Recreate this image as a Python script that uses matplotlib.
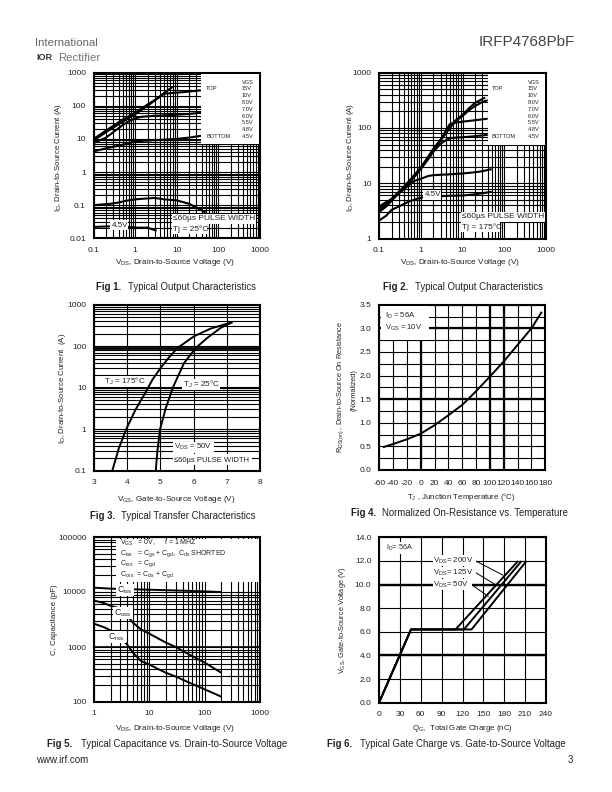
import matplotlib
matplotlib.use("Agg")
import matplotlib.pyplot as plt
from matplotlib.patches import Rectangle
from matplotlib.ticker import LogLocator, NullFormatter, FixedLocator

plt.rcParams['font.family'] = ['Liberation Sans', 'DejaVu Sans']
plt.rcParams['mathtext.fontset'] = 'custom'
plt.rcParams['mathtext.rm'] = 'Liberation Sans'
plt.rcParams['mathtext.default'] = 'rm'

W, H = 612, 792
TXT = '#222222'

# ---- Fig 1
fig1_x = [[0.1, 0.15, 0.2, 0.3, 0.5, 0.7, 1, 1.5, 2, 3, 4, 6, 8],
          [0.1, 0.15, 0.2, 0.3, 0.5, 0.7, 1, 1.5, 2, 3, 5, 15, 38],
          [0.1, 0.2, 0.3, 0.5, 0.7, 1, 1.5, 3, 10, 20, 40],
          [0.1, 0.2, 0.3, 0.6, 1, 3, 10, 20, 40],
          [0.1, 0.25, 0.4, 0.6, 1, 2, 3, 5, 10, 20, 30, 50],
          [0.1, 0.25, 0.4, 0.7, 1, 2, 2.5, 3.3]]
fig1_y = [[10, 14, 18, 25, 38, 48, 62, 85, 110, 150, 195, 290, 370],
          [9, 12.5, 16, 22, 33, 43, 55, 78, 100, 145, 232, 260, 294],
          [7.5, 11, 16, 26, 34, 42, 47, 50, 54, 57, 62],
          [4.2, 5.2, 5.8, 7, 8.5, 9.2, 10, 11, 12.5],
          [0.1, 0.11, 0.12, 0.135, 0.15, 0.16, 0.165, 0.15, 0.14, 0.11, 0.085, 0.06],
          [0.022, 0.023, 0.025, 0.022, 0.021, 0.021, 0.019, 0.017]]
# ---- Fig 2
fig2_x = [[0.1, 0.15, 0.2, 0.3, 0.5, 0.7, 1, 1.5, 2, 3, 5, 7, 10, 15, 20, 35],
          [0.1, 0.15, 0.2, 0.3, 0.5, 0.7, 1, 1.5, 2, 3, 5, 7, 10, 15, 20, 30, 40],
          [0.1, 0.2, 0.3, 0.5, 1, 1.5, 2, 3, 4, 5, 7, 10, 20, 40],
          [0.1, 0.2, 0.3, 0.5, 1, 1.5, 2, 3, 4, 5, 7, 10, 20, 40],
          [0.1, 0.15, 0.2, 0.3, 0.5, 0.7, 1, 1.5, 2, 5, 10, 20, 30, 50],
          [0.1, 0.15, 0.2, 0.3, 0.5, 0.8, 1.2, 4, 10, 20, 30, 50]]
fig2_y = [[3, 3.8, 4.8, 6.7, 10, 14, 19, 30, 42, 62, 105, 140, 172, 235, 285, 356],
          [3.2, 4, 5, 7, 10.5, 14, 19, 29, 40, 60, 100, 135, 165, 215, 250, 295, 318],
          [3.5, 5, 6.8, 10, 19, 29, 40, 60, 90, 118, 125, 130, 138, 147],
          [3.8, 5.2, 7, 9.5, 18, 27, 37, 52, 60, 65, 67, 68, 71, 75],
          [3, 4.2, 5.2, 6.5, 9, 11, 12, 13.5, 14, 14.5, 15, 15.8, 16.5, 18],
          [2.1, 2.6, 3.3, 3.8, 4.6, 5.2, 5.6, 5.9, 6, 6.3, 6.6, 7]]
# ---- Fig 3
fig3_vgs = [[3.55, 3.75, 3.97, 4.25, 4.56, 4.76, 5.0, 5.26, 5.51, 6.01, 6.51, 7.17],
            [4.86, 4.91, 4.99, 5.16, 5.39, 5.71, 6.06, 6.41, 6.81, 7.17]]
fig3_id = [[0.1, 0.35, 1, 2.95, 7.9, 15.6, 29.4, 54, 90, 173, 265, 380],
           [0.1, 0.3, 1, 3.2, 10.7, 39, 90, 158, 275, 380]]
# ---- Fig 4
fig4_t = [-55, -40, -20, 0, 20, 40, 60, 80, 100, 120, 140, 160, 175]
fig4_r = [0.48, 0.55, 0.65, 0.77, 0.95, 1.16, 1.38, 1.67, 1.98, 2.3, 2.65, 3.0, 3.35]
# ---- Fig 5
fig5_x = [[1, 2, 10, 50, 200], [1, 1.5, 2, 3, 4, 5, 7, 10, 15, 20, 30, 50, 100, 200],
          [1, 1.5, 2, 3, 4, 5, 7, 10, 15, 20, 30, 50, 100, 200]]
fig5_y = [[12000, 11500, 11000, 10500, 10000],
          [7000, 6300, 5600, 5000, 3700, 2800, 2100, 1750, 1400, 1200, 1000, 750, 520, 340],
          [2650, 2300, 2000, 1500, 1100, 800, 560, 480, 390, 340, 290, 230, 170, 125]]
# ---- Fig 6
fig6_q = [[0, 46, 110, 200], [0, 46, 122, 205], [0, 46, 133, 212]]
fig6_v = [[0, 6.2, 6.2, 12], [0, 6.2, 6.2, 12], [0, 6.2, 6.2, 12]]
fig6_leader_q = [[139, 178], [139, 170], [133, 157]]
fig6_leader_v = [[12, 10.8], [11, 9.9], [10, 9]]

vgs_list = ['VGS', '15V', '10V', '8.0V', '7.0V', '6.0V', '5.5V', '4.8V', '4.5V']

dec_x = [0.1, 1, 10, 100, 1000]
dec_xl = ['0.1', '1', '10', '100', '1000']

fig = plt.figure(figsize=(W / 100, H / 100), dpi=100, facecolor='white')


def T(x, y, s, size=5.1, ha='left', va='center', rot=0, weight='normal', color=TXT, z=5):
    # texto en pixeles de la pagina (y hacia abajo)
    return fig.text(x / W, 1 - y / H, s, fontsize=size, ha=ha, va=va, rotation=rot,
                    weight=weight, color=color, zorder=z)


def box(x0, y0, x1, y1):
    fig.add_artist(Rectangle((x0 / W, 1 - y1 / H), (x1 - x0) / W, (y1 - y0) / H, transform=fig.transFigure,
                             facecolor='white', edgecolor='none', zorder=4))


def make_axes(x0, y0, x1, y1, xlim, ylim, logx=False, logy=False, xt=None, xl=None, yt=None, yl=None, pad=(6, 5.5)):
    ax = fig.add_axes([x0 / W, 1 - y1 / H, (x1 - x0) / W, (y1 - y0) / H])
    if logx:
        ax.set_xscale('log')
        ax.xaxis.set_minor_locator(LogLocator(base=10, subs=range(2, 10), numticks=20))
        ax.xaxis.set_minor_formatter(NullFormatter())
    if logy:
        ax.set_yscale('log')
        ax.yaxis.set_minor_locator(LogLocator(base=10, subs=range(2, 10), numticks=20))
        ax.yaxis.set_minor_formatter(NullFormatter())
    ax.set_xlim(xlim)
    ax.set_ylim(ylim)
    ax.set_xticks(xt, xl, fontsize=6.0, color=TXT)
    ax.set_yticks(yt, yl, fontsize=6.0, color=TXT)
    ax.tick_params(which='both', length=0)
    ax.tick_params(axis='x', pad=pad[0])
    ax.tick_params(axis='y', pad=pad[1])
    ax.grid(which='both', color='black', lw=0.8)
    ax.set_axisbelow(True)
    for s in ax.spines.values():
        s.set_linewidth(1.5)
    return ax


def curves(ax, xs, ys, lw=1.4):
    for x, y in zip(xs, ys):
        ax.plot(x, y, color='black', lw=lw, solid_capstyle='butt', zorder=3)


def caption(x, y, bold, rest, off):
    T(x, y, bold, size=6.9, weight='bold')
    T(x + off, y, rest, size=6.9)


# ---------- Fig 1
ax = make_axes(93.5, 72.7, 259.7, 238.3, (0.1, 1000), (0.01, 1000), True, True, dec_x, dec_xl,
               [0.01, 0.1, 1, 10, 100, 1000], ['0.01', '0.1', '1', '10', '100', '1000'])
curves(ax, fig1_x, fig1_y, lw=1.5)
box(201, 74, 259, 144)
for i, v in enumerate(vgs_list):
    T(242, 82 + i * 6.8, v, size=4.1)
T(206, 88, 'TOP', size=4.1)
T(206, 136, 'BOTTOM', size=4.1)
box(172, 214, 256, 224)
box(172, 224, 207, 234)
T(173, 219, '≤60µs PULSE WIDTH', size=6.0)
T(173, 229, 'Tj = 25°C', size=6.0)
box(110, 220, 128, 230)
T(112, 225, '4.5V', size=5.7)
T(59, 157, r'I$_D$, Drain-to-Source Current (A)', size=5.7, ha='center', rot=90)
T(175, 263, r'V$_{DS}$, Drain-to-Source Voltage (V)', size=5.9, ha='center')
caption(96, 287, 'Fig 1.', 'Typical Output Characteristics', 32)

# ---------- Fig 2
ax = make_axes(379, 72.7, 546, 238.5, (0.1, 1000), (1, 1000), True, True, dec_x, dec_xl,
               [1, 10, 100, 1000], ['1', '10', '100', '1000'])
curves(ax, fig2_x, fig2_y, lw=1.5)
box(488, 74, 545, 145)
for i, v in enumerate(vgs_list):
    T(528, 82 + i * 6.8, v, size=4.1)
T(492, 88, 'TOP', size=4.1)
T(492, 136, 'BOTTOM', size=4.1)
box(461, 212, 545, 222)
box(461, 222, 500, 232)
T(462, 217, '≤60µs PULSE WIDTH', size=6.0)
T(462, 227, 'Tj = 175°C', size=6.0)
box(423, 190, 441, 200)
T(425, 195, '4.5V', size=5.7)
T(350.5, 157, r'I$_D$, Drain-to-Source Current (A)', size=5.7, ha='center', rot=90)
T(460, 263, r'V$_{DS}$, Drain-to-Source Voltage (V)', size=5.9, ha='center')
caption(383, 287, 'Fig 2.', 'Typical Output Characteristics', 32)

# ---------- Fig 3
ax = make_axes(94, 304.7, 260, 470.7, (3, 8), (0.1, 1000), False, True, [3, 4, 5, 6, 7, 8],
               ['3', '4', '5', '6', '7', '8'], [0.1, 1, 10, 100, 1000], ['0.1', '1', '10', '100', '1000'])
ax.axhline(93, color='k', lw=2.0)
ax.axhline(10, color='k', lw=1.5)
curves(ax, fig3_vgs, fig3_id)
box(103, 376, 145, 387)
T(104, 381, r'T$_J$ = 175°C', size=5.9)
box(182, 379, 220, 390)
T(183, 384, r'T$_J$ = 25°C', size=5.9)
box(173, 442, 214, 453)
box(173, 454, 252, 465)
T(174, 447, r'V$_{DS}$ = 50V', size=5.7)
T(174, 460, '≤60µs PULSE WIDTH', size=5.5)
T(63, 388, r'I$_D$, Drain-to-Source Current  (A)', size=5.7, ha='center', rot=90)
T(176, 500, r'V$_{GS}$, Gate-to-Source Voltage (V)', size=5.9, ha='center')
caption(90, 516, 'Fig 3.', 'Typical Transfer Characteristics', 31)

# ---------- Fig 4
ax = make_axes(379.3, 304.7, 545.3, 470, (-60, 180), (0, 3.5), False, False,
               list(range(-60, 181, 20)), [str(v) for v in range(-60, 181, 20)],
               [0, .5, 1, 1.5, 2, 2.5, 3, 3.5], ['0.0', '0.5', '1.0', '1.5', '2.0', '2.5', '3.0', '3.5'], pad=(7.5, 5.5))
ax.yaxis.set_minor_locator(FixedLocator([.25, .75, 1.25, 1.75, 2.25, 2.75, 3.25]))
for v in [0, 100, 120]:
    ax.axvline(v, color='k', lw=1.6)
for v in [1.5, 3.0]:
    ax.axhline(v, color='k', lw=1.6)
curves(ax, [fig4_t], [fig4_r])
box(380.5, 306, 429, 339.5)
T(385, 316, r'I$_D$ = 56A', size=5.5)
T(385, 328, r'V$_{GS}$ = 10V', size=5.5)
T(341, 387, r'R$_{DS(on)}$ , Drain-to-Source On Resistance', size=5.3, ha='center', rot=90)
T(354, 390, '(Normalized)', size=5.3, ha='center', rot=90)
T(461, 497, r'T$_J$ , Junction Temperature (°C)', size=5.7, ha='center')
caption(351, 513, 'Fig 4.', 'Normalized On-Resistance vs. Temperature', 31)

# ---------- Fig 5
ax = make_axes(94, 537, 260, 702, (1, 1000), (100, 100000), True, True, dec_x[1:], dec_xl[1:],
               [100, 1000, 10000, 100000], ['100', '1000', '10000', '100000'])
ax.axhline(1000, color='k', lw=1.2)
curves(ax, fig5_x, fig5_y)
box(116, 538.5, 259, 582)
T(120, 543, r'V$_{GS}$   = 0V,     f = 1 MHZ', size=5.0)
T(120, 553.5, r'C$_{iss}$   = C$_{gs}$ + C$_{gd}$,  C$_{ds}$ SHORTED', size=5.0)
T(120, 564, r'C$_{rss}$   = C$_{gd}$', size=5.0)
T(120, 575, r'C$_{oss}$  = C$_{ds}$ + C$_{gd}$', size=5.0)
box(116, 584, 134, 596)
T(117, 590, r'C$_{iss}$', size=6.3)
box(113, 607, 133, 619)
T(114, 613, r'C$_{oss}$', size=6.3)
box(107, 631, 126, 643)
T(108, 637, r'C$_{rss}$', size=6.3)
T(55, 620, 'C, Capacitance (pF)', size=5.7, ha='center', rot=90)
T(175, 728, r'V$_{DS}$, Drain-to-Source Voltage (V)', size=5.9, ha='center')
caption(47, 744, 'Fig 5.', 'Typical Capacitance vs. Drain-to-Source Voltage', 34)
T(36, 760, 'www.irf.com', size=7)

# ---------- Fig 6
ax = make_axes(379, 537.3, 546, 702.7, (0, 240), (0, 14), False, False,
               list(range(0, 241, 30)), [str(v) for v in range(0, 241, 30)],
               list(range(0, 15, 2)), ['%.1f' % v for v in range(0, 15, 2)])
ax.axhline(10, color='k', lw=1.7)
ax.axhline(4, color='k', lw=1.7)
for lq, lv in zip(fig6_leader_q, fig6_leader_v):
    ax.plot(lq, lv, color='k', lw=0.7, zorder=3)
curves(ax, fig6_q, fig6_v)
box(385, 542, 417, 554)
T(386, 548, r'I$_D$= 56A', size=5.2)
for yy, lab, x1 in [(561, '200V', 476), (573, '125V', 476), (585, '50V', 472)]:
    box(433, yy - 6, x1, yy + 5)
    T(433, yy, r'V$_{DS}$= ' + lab, size=5.7)
T(343, 620, r'V$_{GS}$, Gate-to-Source Voltage (V)', size=5.3, ha='center', rot=90)
T(463, 728, r'Q$_G$,  Total Gate Charge (nC)', size=5.7, ha='center')
caption(327, 744, 'Fig 6.', 'Typical Gate Charge vs. Gate-to-Source Voltage', 33)
T(568, 760, '3', size=7)

# ---------- Cabecera
T(35, 43, 'International', size=8.2, color='#666666')
T(36, 58, 'IOR', size=6.5, weight='bold', color='#333333')
T(58, 58, 'Rectifier', size=8.2, color='#777777')
T(575, 42, 'IRFP4768PbF', size=11, ha='right', color='#444444')

fig.savefig('out.png', dpi=100)
